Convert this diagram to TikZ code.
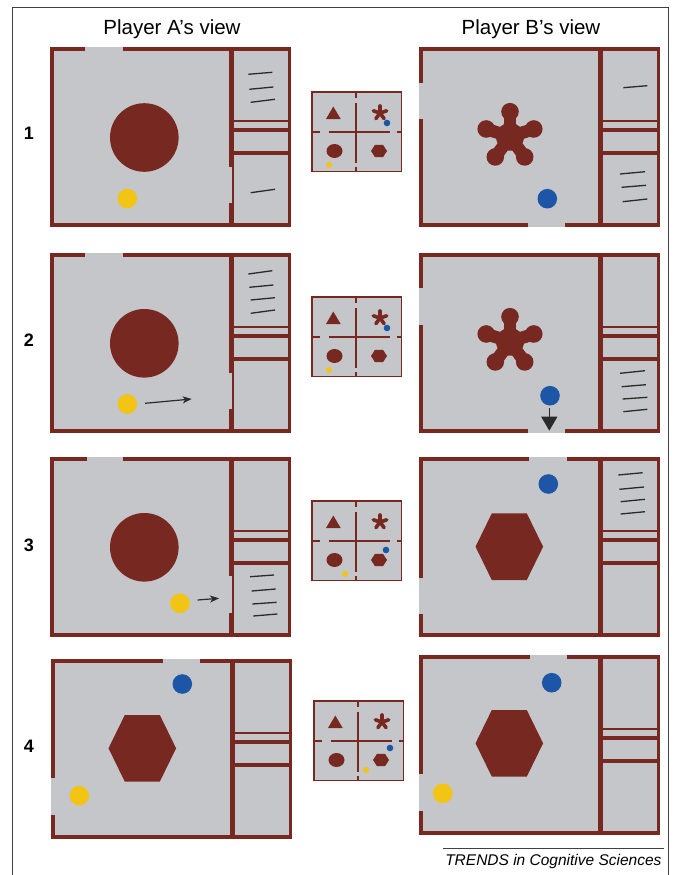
\documentclass[tikz,border=0pt]{standalone}
\usepackage{fontspec}
\setmainfont{Liberation Sans}
\usetikzlibrary{arrows.meta}
\definecolor{wallc}{HTML}{772820}
\definecolor{floorc}{HTML}{C5C6CA}
\definecolor{yel}{HTML}{F2C414}
\definecolor{blu}{HTML}{1D56A6}
\definecolor{ink}{HTML}{2A2A2A}
\definecolor{framec}{HTML}{404040}
\tikzset{
  marks/.style={draw=ink, line width=1.3pt},
  mover/.style={draw=ink, line width=1.2pt, -{Stealth[length=9pt,width=7pt,inset=2.5pt]}},
  bigmover/.style={draw=ink, line width=1.2pt, -{Triangle[length=14pt,width=16pt]}},
  title/.style={font=\fontsize{20.5}{24}\selectfont, anchor=base},
  rownum/.style={font=\fontsize{18}{22}\selectfont\bfseries},
}
% panel pieces (local coordinates, panel 241 x 180)
\newcommand\basepanel{%
  \fill[floorc] (0,0) rectangle (241,180);
  \fill[wallc] (238,0) rectangle (241,180);
  \fill[wallc] (182.3,0) rectangle (184,180);
  \fill[wallc] (183,72.5) rectangle (241,75);
  \fill[wallc] (183,81) rectangle (241,84.5);
  \fill[wallc] (183,104) rectangle (241,108);}
\newcommand\topfull{\fill[wallc] (0,0) rectangle (241,3.8);}
\newcommand\topgap[2]{\fill[wallc] (0,0) rectangle (#1,3.8); \fill[wallc] (#2,0) rectangle (241,3.8);}
\newcommand\botfull{\fill[wallc] (0,176.2) rectangle (241,180);}
\newcommand\botgap[2]{\fill[wallc] (0,176.2) rectangle (#1,180); \fill[wallc] (#2,176.2) rectangle (241,180);}
\newcommand\leftfull{\fill[wallc] (0,0) rectangle (3.8,180);}
\newcommand\leftgap[2]{\fill[wallc] (0,0) rectangle (3.8,#1); \fill[wallc] (0,#2) rectangle (3.8,180);}
\newcommand\divfull{\fill[wallc] (179.3,0) rectangle (183.5,180);}
\newcommand\divgap[2]{\fill[wallc] (179.3,0) rectangle (183.5,#1); \fill[wallc] (179.3,#2) rectangle (183.5,180);}
\newcommand\flower[2]{%
  \begin{scope}[shift={(#1,#2)}]
    \fill[wallc] (0,0) circle (14pt);
    \foreach \a in {270,342,54,126,198}{
      \draw[wallc, line width=12.5pt] (0,0) -- (\a:24);
      \fill[wallc] (\a:25) circle (8.8pt);
    }
  \end{scope}}
\newcommand\hexa[5]{%
  \begin{scope}[shift={(#1,#2)}]
    \fill[wallc] (-#3,0) -- (-#4,-#5) -- (#4,-#5) -- (#3,0) -- (#4,#5) -- (-#4,#5) -- cycle;
  \end{scope}}
\newcommand\minimap[6]{%
  \begin{scope}[shift={(#1,#2)}]
    \fill[floorc] (0,0) rectangle (91,81);
    \draw[wallc, line width=1.5pt] (0.75,0.75) rectangle (90.25,80.25);
    \draw[wallc, line width=1.8pt] (45,0) -- (45,7) (45,11.5) -- (45,72) (45,76) -- (45,81);
    \draw[wallc, line width=1.8pt] (0,41) -- (9,41) (17.5,41) -- (79,41) (85.5,41) -- (91,41);
    \fill[wallc] (22.3,15.5) -- (29.7,28) -- (15,28) -- cycle;
    \foreach \a in {270,342,54,126,198}{
      \draw[wallc, line width=3.6pt, line cap=round] (69,22) -- ++(\a:7);
    }
    \fill[wallc] (23.5,60) ellipse [x radius=8pt, y radius=7pt];
    \hexa{68}{60}{8}{4}{6.2}
    \fill[blu] (#3,#4) circle (3.3pt);
    \fill[yel] (#5,#6) circle (3pt);
  \end{scope}}
\begin{document}
\begin{tikzpicture}[x=1pt,y=-1pt]
\useasboundingbox (0,0) rectangle (676,875);
\fill[white] (0,0) rectangle (676,875);
\draw[framec, line width=1pt] (12,875) -- (12,7.5) -- (668,7.5) -- (668,875);

\node[title] (ta) at (172,35) {Player A’s view};
\node[title] (tb) at (531,35) {Player B’s view};
\node[rownum] (r1) at (29,133) {1};
\node[rownum] (r2) at (29,340) {2};
\node[rownum] (r3) at (29,545) {3};
\node[rownum] (r4) at (29,746) {4};

% ---------- A1
\begin{scope}[shift={(50,47)}]
  \basepanel \topgap{35}{73} \botfull \leftfull \divgap{120}{156}
  \fill[wallc] (94.3,90.5) circle (34.3pt);
  \fill[yel] (77.3,151.5) circle (9.8pt);
  \draw[marks] (198.3,27.3) -- (222.3,25.3);
  \draw[marks] (199.3,42.3) -- (223.3,40);
  \draw[marks] (200.7,55.3) -- (225,52.3);
  \draw[marks] (200.7,145.7) -- (225,142.3);
\end{scope}
% ---------- A2
\begin{scope}[shift={(50,253)}]
  \basepanel \topgap{35}{73} \botfull \leftfull \divgap{120}{156}
  \fill[wallc] (94.3,90.3) circle (34.3pt);
  \fill[yel] (77.3,151) circle (9.8pt);
  \coordinate (a2s) at (95,150.3); \coordinate (a2e) at (141.7,146);
  \draw[mover] (a2s) -- (a2e);
  \draw[marks] (198.3,21) -- (222.3,17.7);
  \draw[marks] (199.3,34.3) -- (223.3,32);
  \draw[marks] (200.7,47) -- (225,44.7);
  \draw[marks] (200.7,60.3) -- (225,57);
\end{scope}
% ---------- A3
\begin{scope}[shift={(50,457)}]
  \basepanel \topgap{36.7}{73.3} \botfull \leftfull \divgap{119}{155.7}
  \fill[wallc] (94.3,90.3) circle (34.3pt);
  \fill[yel] (130,146.3) circle (9.8pt);
  \coordinate (a3s) at (147.7,143); \coordinate (a3e) at (169,141.3);
  \draw[mover] (a3s) -- (a3e);
  \draw[marks] (200,119.7) -- (224,118);
  \draw[marks] (201.7,134) -- (225.7,132);
  \draw[marks] (202.3,147) -- (226.7,145.3);
  \draw[marks] (203.3,159) -- (227.3,157);
\end{scope}
% ---------- A4
\begin{scope}[shift={(51,659)}]
  \basepanel \topgap{111.7}{149} \botfull \leftgap{119.3}{156} \divfull
  \fill[blu] (131.3,25) circle (9.8pt);
  \hexa{91.3}{89.3}{33.8}{17.5}{33.3}
  \fill[yel] (28.3,136.7) circle (9.8pt);
\end{scope}

% ---------- B1
\begin{scope}[shift={(419,47)}]
  \basepanel \topfull \botgap{109.3}{146} \leftgap{35.7}{72.3} \divfull
  \flower{91}{89.7}
  \fill[blu] (128.3,151.7) circle (9.8pt);
  \draw[marks] (204.3,40.7) -- (228.3,38.7);
  \draw[marks] (201,127) -- (226,124.7);
  \draw[marks] (202.7,140.3) -- (227,138.3);
  \draw[marks] (203.7,154.7) -- (228.3,152);
\end{scope}
% ---------- B2
\begin{scope}[shift={(419,253)}]
  \basepanel \topfull \botgap{109.3}{146} \leftgap{34.7}{72} \divfull
  \flower{91}{88.7}
  \fill[blu] (131,142.7) circle (9.8pt);
  \coordinate (b2s) at (130.3,155.3); \coordinate (b2e) at (130.3,177.7);
  \draw[bigmover] (b2s) -- (b2e);
  \draw[marks] (201,120.3) -- (226,117.7);
  \draw[marks] (202.7,133.7) -- (227,131.7);
  \draw[marks] (203.7,146) -- (228.3,144.3);
  \draw[marks] (204.3,158.7) -- (228.3,156.3);
\end{scope}
% ---------- B3
\begin{scope}[shift={(419,457)}]
  \basepanel \topgap{110.3}{147.7} \botfull \leftgap{120.7}{157} \divfull
  \fill[blu] (129.3,27) circle (9.8pt);
  \hexa{90.3}{89.7}{33.8}{17.5}{33.3}
  \draw[marks] (199.3,18) -- (223.7,15.7);
  \draw[marks] (200.3,32.3) -- (225,30);
  \draw[marks] (201.7,44.7) -- (226,42.3);
  \draw[marks] (201.7,57) -- (226,54.7);
\end{scope}
% ---------- B4
\begin{scope}[shift={(419,655)}]
  \basepanel \topgap{111}{147.7} \botfull \leftgap{119}{155.7} \divfull
  \fill[blu] (132.7,27.7) circle (9.8pt);
  \hexa{90.3}{88.3}{33.8}{17.5}{33.3}
  \fill[yel] (23.7,138.3) circle (9.8pt);
\end{scope}

% ---------- mini maps
\minimap{311}{91}{76}{32}{18}{74}
\minimap{311}{296}{76}{32}{18}{74}
\minimap{311}{500}{75}{50}{34}{74}
\minimap{313}{700}{77}{48}{53}{70}

% ---------- credit
\draw[framec, line width=0.8pt] (443,848) -- (664,848);
\node[anchor=base east, font=\fontsize{15.5}{18}\selectfont\itshape] (credit) at (665,865) {TRENDS in Cognitive Sciences};
\end{tikzpicture}
\end{document}
